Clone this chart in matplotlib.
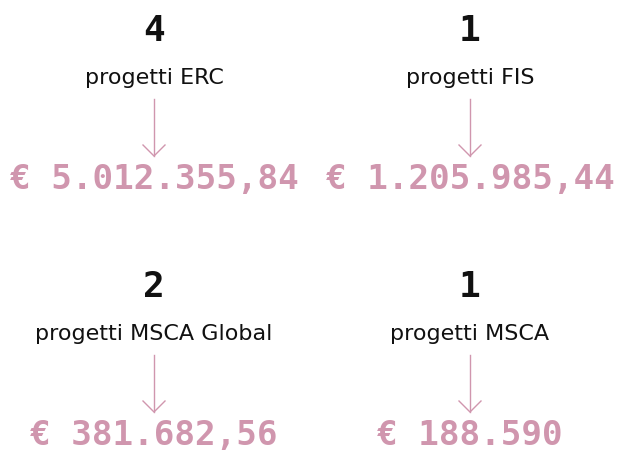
import matplotlib.pyplot as plt

# data
counts = ["4", "1", "2", "1"]
labels = ["progetti ERC", "progetti FIS", "progetti MSCA Global", "progetti MSCA"]
amounts = ["€ 5.012.355,84", "€ 1.205.985,44", "€ 381.682,56", "€ 188.590"]

pink = "#d096ae"
ink = "#111111"

# layout in pixels
col_x = [154, 470]
row_y = [0, 256]

fig = plt.figure(figsize=(6.18, 4.52), dpi=100)
ax = fig.add_axes([0, 0, 1, 1])
ax.set_xlim(0, 618)
ax.set_ylim(452, 0)
ax.axis("off")

for i, (n, lab, amt) in enumerate(zip(counts, labels, amounts)):
    x = col_x[i % 2]
    y0 = row_y[i // 2]
    ax.text(x, y0 + 31, n, ha="center", va="center", fontsize=26,
            fontweight="bold", family="DejaVu Sans Mono", color=ink)
    ax.text(x, y0 + 78, lab, ha="center", va="center", fontsize=16,
            family="DejaVu Sans", color=ink)
    # arrow: shaft + open head
    top, tip = y0 + 100, y0 + 157
    ax.plot([x, x], [top, tip], color=pink, lw=1)
    ax.plot([x - 11, x, x + 11], [tip - 11, tip, tip - 11], color=pink, lw=1)
    ax.text(x, y0 + 180, amt, ha="center", va="center", fontsize=24.7,
            fontweight="bold", family="DejaVu Sans Mono", color=pink)

fig.savefig("out.png", dpi=100)
